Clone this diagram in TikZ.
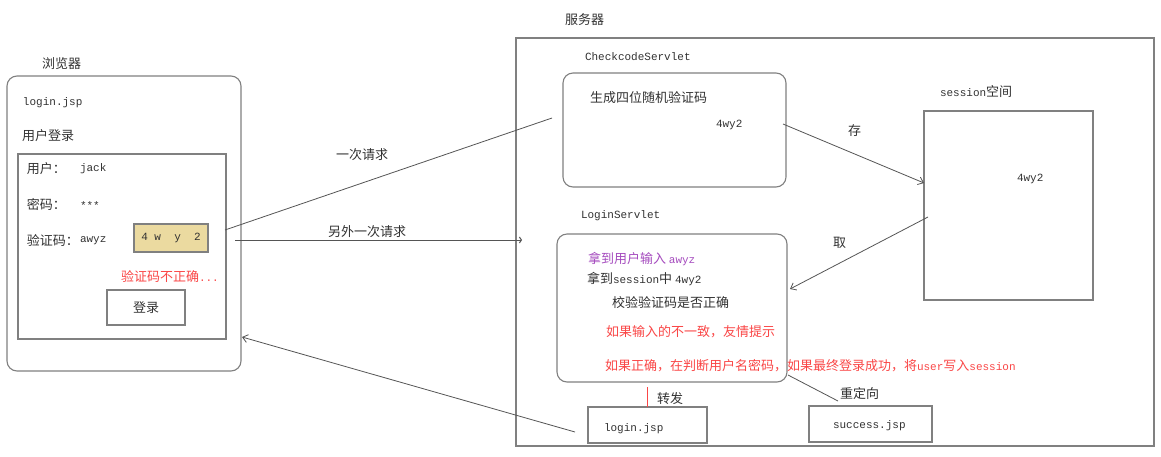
\documentclass[tikz,border=0pt]{standalone}
\usepackage{fontspec}
\setmainfont{Noto Sans CJK SC}
\newfontfamily\ltnf{Liberation Mono}
\newcommand\ltn[1]{{\ltnf\fontsize{11}{13}\selectfont #1}}
\usetikzlibrary{arrows.meta}
\definecolor{boxgray}{RGB}{128,128,128}
\definecolor{linegray}{RGB}{85,85,85}
\definecolor{txt}{RGB}{50,50,50}
\definecolor{redtxt}{RGB}{250,70,70}
\definecolor{purptxt}{RGB}{165,75,190}
\definecolor{codefill}{RGB}{235,218,160}
\tikzset{
  box/.style={draw=boxgray, line width=1.1pt, rectangle, anchor=north west, inner sep=0pt, outer sep=0pt},
  rbox/.style={box, rounded corners=10pt},
  lbl/.style={anchor=west, inner sep=0pt, outer sep=0pt, text=txt, font=\fontsize{13}{15}\selectfont},
  conn/.style={draw=linegray, line width=0.8pt},
  tip/.style={-{Straight Barb[length=5pt,width=8pt]}}
}
\begin{document}
\begin{tikzpicture}[x=1pt,y=-1pt]
\useasboundingbox (0,0) rectangle (1161,456);
\fill[white] (0,0) rectangle (1161,456);

% ---------- browser ----------
\node[lbl] (tbrowser) at (42,64) {浏览器};
\node[rbox, minimum width=234pt, minimum height=295pt] (browser) at (7,76) {};
\node[lbl] (tloginjsp) at (23,103) {\ltn{login.jsp}};
\node[lbl] (tuserlogin) at (22,136) {用户登录};
\node[box, minimum width=208pt, minimum height=185pt] (form) at (18,154) {};
\node[lbl] (tuser) at (27,169) {用户：};
\node[lbl] (tjack) at (80,169) {\ltn{jack}};
\node[lbl] (tpwd) at (27,204) {密码：};
\node[lbl] (tstars) at (80,206) {\ltn{***}};
\node[lbl] (tcode) at (27,240) {验证码：};
\node[lbl] (tawyz) at (80,241) {\ltn{awyz}};
\node[box, fill=codefill, minimum width=74pt, minimum height=28pt] (codebox) at (134,224) {};
\node[inner sep=0pt, text=txt] (tcodeimg) at (codebox.center) {\ltn{4 w\ \ y\ \ 2}};
\node[lbl, text=redtxt] (terr) at (121,277) {验证码不正确\ltn{...}};
\node[box, minimum width=78pt, minimum height=35pt] (btn) at (107,290) {};
\node[inner sep=0pt, text=txt, font=\fontsize{13}{15}\selectfont] (tbtn) at (btn.center) {登录};

% ---------- server ----------
\node[lbl] (tserver) at (565,20) {服务器};
\node[box, minimum width=638pt, minimum height=408pt] (server) at (516,38) {};

\node[lbl] (tcheck) at (585,57) {\ltn{CheckcodeServlet}};
\node[rbox, minimum width=223pt, minimum height=114pt] (check) at (563,73) {};
\node[lbl] (tgen) at (590,98) {生成四位随机验证码};
\node[lbl] (tcode1) at (716,125) {\ltn{4wy2}};

\node[lbl] (tsession) at (940,92) {\ltn{session}空间};
\node[box, minimum width=169pt, minimum height=189pt] (session) at (924,111) {};
\node[lbl] (tcode2) at (1017,179) {\ltn{4wy2}};

\node[lbl] (tlogin) at (581,216) {\ltn{LoginServlet}};
\node[rbox, minimum width=230pt, minimum height=148pt] (login) at (557,234) {};
\node[lbl, text=purptxt] (tl1) at (588,259) {拿到用户输入 \ltn{awyz}};
\node[lbl] (tl2) at (587,279) {拿到\ltn{session}中 \ltn{4wy2}};
\node[lbl] (tl3) at (612,303) {校验验证码是否正确};
\node[lbl, text=redtxt] (tl4) at (606,332) {如果输入的不一致，友情提示};
\node[lbl, text=redtxt] (tl5) at (605,366) {如果正确，在判断用户名密码，如果最终登录成功，将\ltn{user}写入\ltn{session}};

\node[box, minimum width=119pt, minimum height=36pt] (ljsp) at (588,407) {};
\node[lbl] (tljsp) at (604,429) {\ltn{login.jsp}};
\node[box, minimum width=123pt, minimum height=36pt] (sjsp) at (809,406) {};
\node[lbl] (tsjsp) at (833,426) {\ltn{success.jsp}};

% ---------- connectors ----------
\coordinate (r1s) at (225,230);
\coordinate (r1e) at (552,118);
\draw[conn] (r1s) -- (r1e);
\node[lbl] (treq1) at (336,155) {一次请求};

\coordinate (r2s) at (235,240);
\coordinate (r2e) at (522,240);
\draw[conn, line width=1pt, -{Straight Barb[length=2pt,width=6pt]}] (r2s) -- (r2e);
\node[lbl] (treq2) at (328,232) {另外一次请求};

\coordinate (sts) at (783,124);
\coordinate (ste) at (924,183);
\draw[conn, tip] (sts) -- (ste);
\node[lbl] (tstore) at (848,131) {存};

\coordinate (tks) at (928,217);
\coordinate (tke) at (790,289);
\draw[conn, tip] (tks) -- (tke);
\node[lbl] (ttake) at (833,243) {取};

\coordinate (fws) at (647,387);
\draw[draw=redtxt, line width=0.9pt] (fws) -- (ljsp.north -| fws);
\node[lbl] (tfwd) at (657,399) {转发};

\coordinate (rds) at (788,375);
\coordinate (rde) at (838,401);
\draw[conn] (rds) -- (rde);
\node[lbl] (tredir) at (840,394) {重定向};

\coordinate (rts) at (575,432);
\coordinate (rte) at (242,337);
\draw[conn, tip] (rts) -- (rte);
\end{tikzpicture}
\end{document}
